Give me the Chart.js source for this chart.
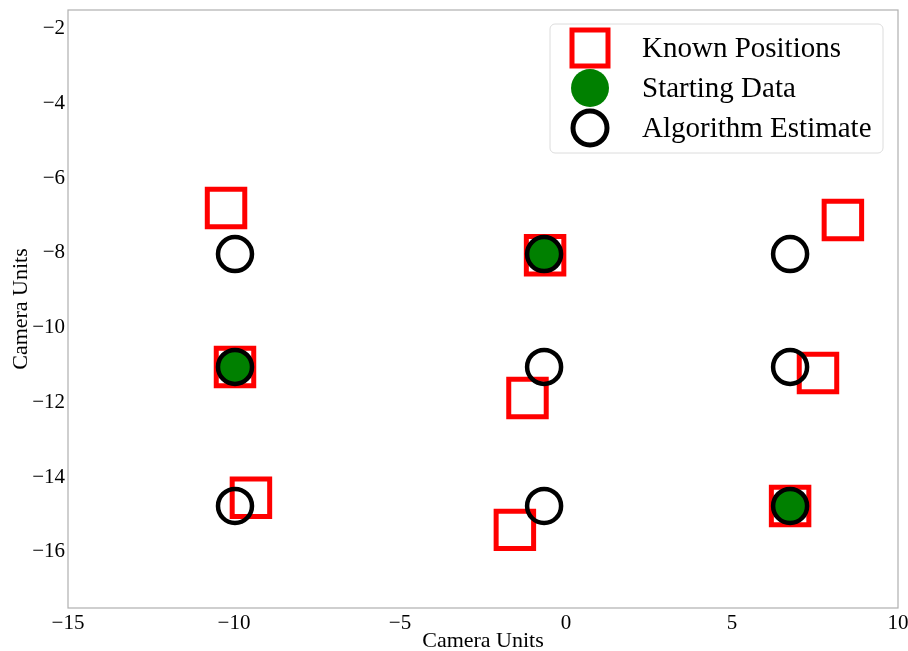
<!DOCTYPE html>
<html>
<head>
<meta charset="utf-8">
<script src="https://cdn.jsdelivr.net/npm/chart.js@4.4.1/dist/chart.umd.min.js"></script>
<style>
  body { margin: 0; background: #fff; }
  canvas { display: block; }
</style>
</head>
<body>
<canvas id="posChart" width="908" height="651"></canvas>
<script>
// Datos
const knownX = [-10.24, -0.63, 8.34, -9.97, -1.16, 7.59, -9.49, -1.54, 6.75];
const knownY = [-6.80, -8.06, -7.12, -11.05, -11.88, -11.21, -14.55, -15.41, -14.77];

const startX = [-0.66, -9.97, 6.75];
const startY = [-8.03, -11.05, -14.77];

const estX = [-9.97, -0.66, 6.75, -9.97, -0.66, 6.75, -9.97, -0.66, 6.75];
const estY = [-8.03, -8.03, -8.03, -11.05, -11.05, -11.05, -14.77, -14.77, -14.77];

const xTicks = [-15, -10, -5, 0, 5, 10];
const yTicks = [-16, -14, -12, -10, -8, -6, -4, -2];

const seriesNames = ["Known Positions", "Starting Data", "Algorithm Estimate"];

const SERIF = "'Liberation Serif', 'DejaVu Serif', serif";
const AXIS_GRAY = "#b0b0b0";

const toPoints = (xs, ys) => xs.map((x, i) => ({ x, y: ys[i] }));
const fmt = v => (v < 0 ? "\u2212" + Math.abs(v) : String(v));

// sin márgenes extra por las etiquetas de los extremos
const noPad = axis => {
  axis.paddingTop = 0;
  axis.paddingBottom = 0;
  axis.paddingLeft = 0;
  axis.paddingRight = 0;
};

// Marco completo + leyenda dentro del área
const framePlugin = {
  id: "frame",
  afterDraw(chart) {
    const { ctx, chartArea: a } = chart;
    ctx.save();
    ctx.strokeStyle = AXIS_GRAY;
    ctx.lineWidth = 1.2;
    ctx.strokeRect(a.left, a.top, a.right - a.left, a.bottom - a.top);

    // leyenda
    const bx = 550, by = 24, bw = 333, bh = 129, r = 5;
    ctx.beginPath();
    ctx.moveTo(bx + r, by);
    ctx.arcTo(bx + bw, by, bx + bw, by + bh, r);
    ctx.arcTo(bx + bw, by + bh, bx, by + bh, r);
    ctx.arcTo(bx, by + bh, bx, by, r);
    ctx.arcTo(bx, by, bx + bw, by, r);
    ctx.closePath();
    ctx.fillStyle = "rgba(255,255,255,0.85)";
    ctx.fill();
    ctx.strokeStyle = "#dcdcdc";
    ctx.lineWidth = 1;
    ctx.stroke();

    const mx = 590, rows = [48, 88, 128];
    // cuadrado rojo
    ctx.strokeStyle = "#ff0000";
    ctx.lineWidth = 5;
    ctx.strokeRect(mx - 18, rows[0] - 18, 36, 36);
    // círculo verde
    ctx.beginPath();
    ctx.arc(mx, rows[1], 19, 0, Math.PI * 2);
    ctx.fillStyle = "#008000";
    ctx.fill();
    // círculo negro
    ctx.beginPath();
    ctx.arc(mx, rows[2], 17, 0, Math.PI * 2);
    ctx.strokeStyle = "#000";
    ctx.lineWidth = 5;
    ctx.stroke();

    ctx.fillStyle = "#000";
    ctx.font = "29px " + SERIF;
    ctx.textBaseline = "middle";
    ctx.textAlign = "left";
    seriesNames.forEach((name, i) => ctx.fillText(name, 642, rows[i] + 1));
    ctx.restore();
  }
};

new Chart(document.getElementById("posChart"), {
  type: "scatter",
  data: {
    datasets: [
      {
        label: seriesNames[0],
        data: toPoints(knownX, knownY),
        pointStyle: "rect",
        pointRadius: 26.5,
        pointHoverRadius: 26.5,
        borderColor: "#ff0000",
        backgroundColor: "rgba(0,0,0,0)",
        borderWidth: 5,
        pointHoverBorderWidth: 5,
        order: 3
      },
      {
        label: seriesNames[1],
        data: toPoints(startX, startY),
        pointStyle: "circle",
        pointRadius: 18,
        pointHoverRadius: 18,
        borderColor: "#008000",
        backgroundColor: "#008000",
        borderWidth: 0,
        order: 2
      },
      {
        label: seriesNames[2],
        data: toPoints(estX, estY),
        pointStyle: "circle",
        pointRadius: 17,
        pointHoverRadius: 17,
        borderColor: "#000000",
        backgroundColor: "rgba(0,0,0,0)",
        borderWidth: 4.5,
        pointHoverBorderWidth: 4.5,
        order: 1
      }
    ]
  },
  options: {
    responsive: false,
    animation: false,
    layout: { autoPadding: false, padding: { top: 10, right: 10, left: 0, bottom: 0 } },
    plugins: {
      legend: { display: false },
      tooltip: { enabled: false }
    },
    scales: {
      x: {
        type: "linear",
        min: -15,
        max: 10,
        afterBuildTicks: axis => { axis.ticks = xTicks.map(v => ({ value: v })); },
        afterFit: axis => { axis.height = 43; noPad(axis); },
        grid: { display: false, drawTicks: false },
        border: { display: false },
        ticks: {
          color: "#000",
          padding: 3,
          maxRotation: 0,
          font: { family: SERIF, size: 21 },
          callback: v => fmt(v)
        },
        title: {
          display: true,
          text: "Camera Units",
          color: "#000",
          padding: { top: 0, bottom: -3 },
          font: { family: SERIF, size: 22 }
        }
      },
      y: {
        type: "linear",
        min: -17.5,
        max: -1.5,
        afterBuildTicks: axis => { axis.ticks = yTicks.map(v => ({ value: v })); },
        afterFit: axis => { axis.width = 68; noPad(axis); },
        grid: { display: false, drawTicks: false },
        border: { display: false },
        ticks: {
          color: "#000",
          padding: 3,
          font: { family: SERIF, size: 21 },
          callback: v => fmt(v)
        },
        title: {
          display: true,
          text: "Camera Units",
          color: "#000",
          padding: { top: 8, bottom: 0 },
          font: { family: SERIF, size: 22 }
        }
      }
    }
  },
  plugins: [framePlugin]
});
</script>
</body>
</html>
